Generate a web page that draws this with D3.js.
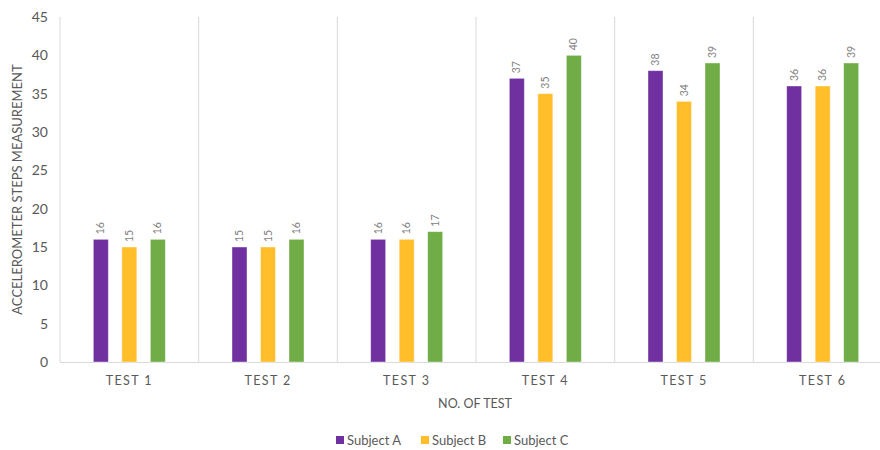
<!DOCTYPE html>
<html><head><meta charset="utf-8">
<script src="https://cdn.jsdelivr.net/npm/d3@7"></script>
<style>body{margin:0;background:#fff}svg{display:block;font-family:Lato,"Open Sans",sans-serif}</style>
</head><body><svg id="c" width="880" height="450"></svg>
<script>
const categories = ["TEST 1","TEST 2","TEST 3","TEST 4","TEST 5","TEST 6"];
const seriesNames = ["Subject A","Subject B","Subject C"];
const subjectA = [16,15,16,37,38,36];
const subjectB = [15,15,16,35,34,36];
const subjectC = [16,16,17,40,39,39];
const yTicks = [0,5,10,15,20,25,30,35,40,45];
const colors = ["#7030A0","#FFBE2A","#70AD47"];
const series = [subjectA, subjectB, subjectC];

const svg = d3.select("#c");
const L = 60, R = 892, T = 17, B = 362;
const x = d3.scaleBand().domain(categories).range([L, R]);
const y = d3.scaleLinear().domain([0,45]).range([B, T]);
const x1 = d3.scaleBand().domain(seriesNames).range([x.bandwidth()/2 - 36, x.bandwidth()/2 + 36]).paddingInner(0.474);

const seps = categories.map((c,i)=>x(c)).concat([R]);
svg.append("g").selectAll("line").data(seps).join("line")
  .attr("x1",d=>d).attr("x2",d=>d).attr("y1",T).attr("y2",B)
  .attr("stroke","#d9d9d9").attr("stroke-width",1);
svg.append("line").attr("x1",L).attr("x2",R).attr("y1",B+0.5).attr("y2",B+0.5)
  .attr("stroke","#d9d9d9");

const ya = svg.append("g").attr("transform",`translate(${L},0)`)
  .call(d3.axisLeft(y).tickValues(yTicks).tickSize(0).tickPadding(12));
ya.select(".domain").remove();
ya.selectAll("text").attr("fill","#595959").style("font-size","14px").style("font-family","Lato,'Open Sans',sans-serif");

const xa = svg.append("g").attr("transform",`translate(0,${B})`)
  .call(d3.axisBottom(x).tickSize(0).tickPadding(14));
xa.select(".domain").remove();
xa.selectAll("text").attr("fill","#595959").style("font-size","12.5px").style("letter-spacing","1.4px").style("font-family","Lato,'Open Sans',sans-serif");

const g = svg.append("g");
categories.forEach((c,i)=>{
  seriesNames.forEach((s,j)=>{
    const v = series[j][i];
    const bx = x(c) + x1(s);
    g.append("rect").attr("x",bx).attr("y",y(v)).attr("width",x1.bandwidth()).attr("height",B - y(v))
      .attr("fill",colors[j]).attr("stroke","#ffffff").attr("stroke-opacity",0.5).attr("stroke-width",0.8);
    g.append("text").attr("transform",`translate(${bx + x1.bandwidth()/2 + 3.5},${y(v)-5}) rotate(-90)`)
      .attr("fill","#7f7f7f").style("font-size","10.5px").text(v);
  });
});

svg.append("text").attr("x",(L+R)/2 - 1).attr("y",408).attr("text-anchor","middle")
  .attr("fill","#595959").style("font-size","12.5px").text("NO. OF TEST");
svg.append("text").attr("transform",`translate(22,${(T+B)/2}) rotate(-90)`).attr("text-anchor","middle")
  .attr("fill","#595959").style("font-size","13px").text("ACCELEROMETER STEPS MEASUREMENT");

const legX = [336, 421, 503];
const lg = svg.append("g");
seriesNames.forEach((s,j)=>{
  lg.append("rect").attr("x",legX[j]).attr("y",436).attr("width",8).attr("height",8).attr("fill",colors[j]);
  lg.append("text").attr("x",legX[j]+11).attr("y",444.5).attr("fill","#595959").style("font-size","13px").text(s);
});
</script></body></html>
